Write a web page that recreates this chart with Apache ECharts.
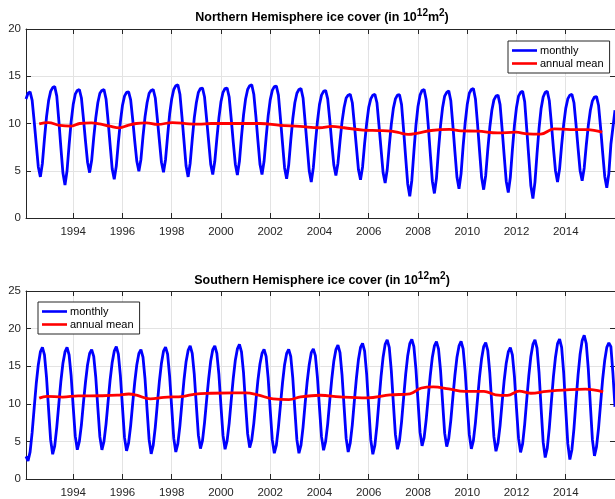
<!DOCTYPE html>
<html><head><meta charset="utf-8">
<script src="https://cdn.jsdelivr.net/npm/echarts@6/dist/echarts.min.js"></script>
<style>html,body{margin:0;padding:0;background:#fff}#c{width:615px;height:499px}</style>
</head><body><div id="c"></div>
<script>
// ---- data ----
const xTickYears = [1994,1996,1998,2000,2002,2004,2006,2008,2010,2012,2014];
const firstMonthTime = 1992 + 1/12;   // time of first monthly sample
const lastTime = 2016;
const legendNames = ['monthly', 'annual mean'];
const nhTitle = 'Northern Hemisphere ice cover (in 10';
const shTitle = 'Southern Hemisphere ice cover (in 10';

const nhMonthly = [
 12.6,13.2,13.35,12.45,10.2,7.8,5.4,4.35,5.8,8.4,10.7,12.4,
 13.4,13.8,13.9,12.9,10.3,7.45,4.75,3.5,5.0,7.7,10.2,12.0,
 13.1,13.5,13.6,12.7,10.5,8.1,5.9,4.8,6.1,8.5,10.6,12.2,
 13.2,13.5,13.6,12.6,10.3,7.7,5.2,4.1,5.5,8.0,10.2,11.9,
 12.9,13.3,13.35,12.5,10.4,8.1,6.0,4.95,6.2,8.6,10.7,12.2,
 13.2,13.5,13.6,12.7,10.5,8.2,5.9,4.85,6.2,8.7,11.0,12.6,
 13.6,14.0,14.1,13.1,10.7,8.1,5.5,4.35,5.8,8.3,10.6,12.2,
 13.3,13.7,13.75,12.8,10.5,8.1,5.7,4.6,6.0,8.4,10.6,12.3,
 13.3,13.7,13.75,12.8,10.5,8.0,5.7,4.55,6.0,8.6,10.9,12.6,
 13.6,14.0,14.1,13.1,10.8,8.2,5.7,4.6,6.0,8.5,10.8,12.5,
 13.5,13.9,13.95,13.0,10.5,7.9,5.3,4.15,5.6,8.2,10.5,12.2,
 13.2,13.6,13.7,12.7,10.2,7.6,5.0,3.8,5.3,7.9,10.2,12.0,
 13.0,13.4,13.5,12.6,10.4,7.9,5.6,4.5,5.8,8.1,10.2,11.7,
 12.7,13.0,13.1,12.2,9.9,7.5,5.1,4.05,5.4,7.9,10.0,11.7,
 12.6,13.0,13.1,12.2,9.8,7.3,4.8,3.7,5.1,7.6,9.9,11.6,
 12.6,13.0,13.05,12.0,9.3,6.4,3.6,2.3,4.0,7.0,9.8,11.8,
 13.0,13.5,13.6,12.5,9.8,6.8,3.9,2.6,4.2,7.2,9.8,11.7,
 12.9,13.3,13.45,12.4,9.8,7.0,4.3,3.1,4.7,7.6,10.1,12.0,
 13.2,13.6,13.7,12.6,10.0,7.1,4.3,3.0,4.5,7.2,9.6,11.4,
 12.5,12.9,13.0,12.0,9.4,6.6,3.9,2.7,4.3,7.2,9.8,11.7,
 12.9,13.3,13.4,12.3,9.4,6.4,3.4,2.05,3.8,6.8,9.5,11.6,
 12.8,13.3,13.4,12.4,10.0,7.4,5.0,3.8,5.2,7.7,9.9,11.6,
 12.6,13.0,13.1,12.2,9.9,7.4,5.0,3.95,5.3,7.7,9.8,11.4,
 12.4,12.8,12.85,11.9,9.5,6.9,4.4,3.2,4.7,7.8,9.6,11.4
];
const shMonthly = [
 3.0,2.4,3.6,6.2,9.5,12.7,15.2,16.9,17.5,16.5,13.5,9.3,
 5.2,3.3,4.4,6.9,10.0,13.0,15.4,16.9,17.5,16.5,13.7,9.6,
 5.7,3.9,5.0,7.2,10.2,12.9,15.2,16.7,17.2,16.3,13.5,9.5,
 5.6,3.87,5.0,7.3,10.3,13.2,15.5,17.0,17.6,16.6,13.7,9.6,
 5.5,3.74,4.8,7.1,10.1,12.9,15.2,16.7,17.2,16.2,13.3,9.2,
 5.2,3.35,4.5,6.9,10.0,13.0,15.4,17.0,17.55,16.6,13.6,9.5,
 5.4,3.6,4.7,7.1,10.2,13.2,15.6,17.1,17.7,16.7,13.9,9.8,
 5.8,4.05,5.1,7.5,10.5,13.3,15.7,17.2,17.7,16.7,13.9,9.7,
 5.8,3.96,5.1,7.4,10.5,13.4,15.8,17.3,17.9,16.9,14.1,9.9,
 6.0,4.18,5.2,7.4,10.3,13.1,15.3,16.7,17.25,16.3,13.4,9.2,
 5.2,3.43,4.5,6.9,9.9,12.8,15.2,16.7,17.25,16.3,13.4,9.2,
 5.2,3.43,4.5,6.9,10.0,12.9,15.2,16.8,17.3,16.4,13.5,9.5,
 5.6,3.83,5.0,7.3,10.4,13.3,15.7,17.2,17.8,16.8,13.8,9.6,
 5.4,3.6,4.8,7.2,10.4,13.4,15.9,17.5,18.05,17.0,13.9,9.5,
 5.2,3.3,4.5,7.1,10.4,13.6,16.2,17.9,18.5,17.5,14.4,10.1,
 5.9,3.96,5.1,7.6,10.8,13.9,16.4,18.0,18.57,17.6,14.6,10.4,
 6.2,4.4,5.5,7.9,10.9,13.8,16.2,17.7,18.27,17.3,14.4,10.2,
 6.1,4.3,5.4,7.8,10.9,13.8,16.2,17.7,18.3,17.3,14.3,10.0,
 5.9,4.0,5.1,7.5,10.6,13.6,16.0,17.6,18.13,17.1,14.1,9.8,
 5.6,3.7,4.8,7.1,10.2,13.1,15.4,16.9,17.47,16.5,13.6,9.4,
 5.4,3.55,4.7,7.3,10.6,13.7,16.3,17.9,18.5,17.4,14.1,9.4,
 4.9,2.86,4.1,6.8,10.3,13.6,16.2,18.0,18.6,17.5,14.1,9.3,
 4.7,2.6,3.9,6.7,10.4,13.8,16.6,18.4,19.1,18.0,14.6,9.8,
 5.2,3.08,4.3,6.8,10.1,13.3,15.8,17.5,18.1,17.6,14.0,9.6
];

const nhMeanT = [1992.62,1992.98,1993.46,1993.93,1994.26,1994.74,1995.07,1995.48,1995.88,1996.22,1996.56,1996.96,1997.43,1998.03,1998.7,1999.1,1999.6,2000.53,2001.6,2002.4,2003.2,2004.0,2004.5,2005.0,2005.77,2006.4,2006.9,2007.19,2007.6,2008.0,2008.54,2009.28,2009.75,2010.43,2011.24,2011.97,2012.45,2012.98,2013.53,2014.2,2014.87,2015.48];
const nhMeanV = [9.96,10.1,9.8,9.72,10.0,10.07,9.96,9.72,9.54,9.8,10.0,10.07,9.9,10.1,9.96,9.93,10.0,10.0,10.0,9.8,9.7,9.55,9.7,9.55,9.3,9.25,9.2,9.05,8.84,8.99,9.26,9.37,9.22,9.19,9.01,9.08,8.9,8.87,9.43,9.36,9.36,9.08];

const shMeanT = [1992.62,1992.93,1993.57,1994.2,1995.15,1995.78,1996.26,1996.57,1997.13,1997.68,1998.48,1998.95,1999.59,2000.54,2001.01,2001.49,2002.12,2002.76,2003.23,2004.03,2004.82,2005.93,2006.87,2007.67,2008.14,2008.62,2009.25,2009.89,2010.68,2011.15,2011.63,2012.11,2012.58,2013.22,2014.17,2014.8,2015.52];
const shMeanV = [10.75,11.0,10.9,11.05,11.07,11.14,11.3,11.14,10.65,10.85,11.0,11.3,11.4,11.44,11.44,11.18,10.65,10.56,10.92,11.14,10.92,10.78,11.18,11.33,12.1,12.24,11.97,11.64,11.64,11.2,11.13,11.68,11.4,11.66,11.88,11.95,11.6];

// ---- build ----
const FONT = '"Liberation Sans", Arial, Helvetica, sans-serif';
const AX = '#262626';
const GRIDC = '#e3e3e3';
const monthly = arr => arr.map((v, i) => [firstMonthTime + i / 12, v]);
const pairs = (t, v) => t.map((x, i) => [x, v[i]]);

function xAxes(gi) {
  const common = {type: 'value', gridIndex: gi, min: firstMonthTime, max: lastTime,
    axisLine: {show: true, onZero: false, lineStyle: {color: AX, width: 1}}};
  return [
    Object.assign({}, common, {position: 'bottom',
      axisTick: {show: true, inside: true, length: 5, customValues: xTickYears, lineStyle: {color: AX}},
      axisLabel: {customValues: xTickYears, color: AX, fontSize: 11.5, fontFamily: FONT, margin: 8,
        formatter: v => String(Math.round(v))},
      splitLine: {show: true, customValues: xTickYears, lineStyle: {color: GRIDC, width: 1}}}),
    Object.assign({}, common, {position: 'top',
      axisTick: {show: true, inside: true, length: 5, customValues: xTickYears, lineStyle: {color: AX}},
      axisLabel: {show: false}, splitLine: {show: false}})
  ];
}
function yAxes(gi, max) {
  const common = {type: 'value', gridIndex: gi, min: 0, max: max, interval: 5,
    axisLine: {show: true, onZero: false, lineStyle: {color: AX, width: 1}}};
  return [
    Object.assign({}, common, {position: 'left',
      axisTick: {show: true, inside: true, length: 5, lineStyle: {color: AX}},
      axisLabel: {color: AX, fontSize: 11.5, fontFamily: FONT, margin: 5},
      splitLine: {show: true, lineStyle: {color: GRIDC, width: 1}}}),
    Object.assign({}, common, {position: 'right',
      axisTick: {show: true, inside: true, length: 5, lineStyle: {color: AX}},
      axisLabel: {show: false}, splitLine: {show: false}})
  ];
}
function titleOf(text, top) {
  return {
    text: '{t|' + text + '}{s|12}{t|m}{s|2}{t|)}',
    left: 322, textAlign: 'center', top: top, padding: 0,
    textStyle: {rich: {
      t: {fontSize: 12.5, fontWeight: 'bold', fontFamily: FONT, color: '#000', lineHeight: 20},
      s: {fontSize: 10, fontWeight: 'bold', fontFamily: FONT, color: '#000', lineHeight: 13, verticalAlign: 'top'}
    }}
  };
}
function legendOf(left, top) {
  return {
    data: legendNames, orient: 'vertical', left: left, top: top,
    padding: [4, 6, 4, 4], itemGap: 2, itemWidth: 25, itemHeight: 14,
    backgroundColor: '#fff', borderColor: AX, borderWidth: 1,
    textStyle: {fontSize: 11, fontFamily: FONT, color: '#000', padding: [0, 0, 0, -2]},
    icon: 'path://M0,6 L25,6 L25,8.6 L0,8.6 Z'
  };
}
function lineSeries(name, data, color, xi, yi, smooth) {
  return {type: 'line', name: name, data: data, xAxisIndex: xi, yAxisIndex: yi,
    showSymbol: false, symbol: 'none', smooth: smooth,
    lineStyle: {color: color, width: 2.8}, itemStyle: {color: color}, z: name === 'monthly' ? 2 : 3};
}

const option = {
  animation: false,
  backgroundColor: '#fff',
  title: [titleOf(nhTitle, 8), titleOf(shTitle, 271)],
  legend: [legendOf(508, 41), legendOf(38, 302)],
  grid: [
    {left: 26, top: 29, width: 592, height: 189, containLabel: false},
    {left: 26, top: 291, width: 592, height: 189, containLabel: false}
  ],
  xAxis: [].concat(xAxes(0), xAxes(1)),
  yAxis: [].concat(yAxes(0, 20), yAxes(1, 25)),
  series: [
    lineSeries('monthly', monthly(nhMonthly), '#0000ff', 0, 0, false),
    lineSeries('annual mean', pairs(nhMeanT, nhMeanV), '#ff0000', 0, 0, 0.4),
    lineSeries('monthly', monthly(shMonthly), '#0000ff', 2, 2, false),
    lineSeries('annual mean', pairs(shMeanT, shMeanV), '#ff0000', 2, 2, 0.4)
  ]
};
const chart = echarts.init(document.getElementById('c'), null, {renderer: 'canvas'});
chart.setOption(option);
</script></body></html>
